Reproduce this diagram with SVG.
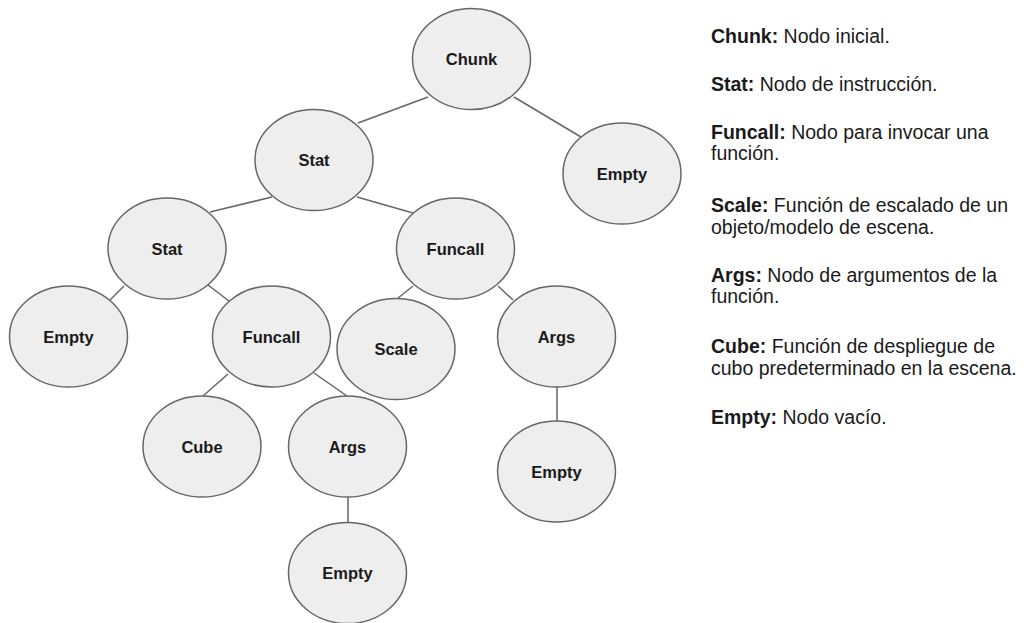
<svg xmlns="http://www.w3.org/2000/svg" width="1029" height="623" viewBox="0 0 1029 623">
  <style>
    .node ellipse { fill: #eeeeee; stroke: #666666; stroke-width: 1.5; }
    .node text { font-family: "Liberation Sans", Arial, sans-serif; font-weight: bold; font-size: 16.5px; fill: #1a1a1a; text-anchor: middle; }
    #edges line { stroke: #666666; stroke-width: 1.5; }
    .legend text { font-family: "Liberation Sans", Arial, sans-serif; font-size: 19.5px; fill: #1a1a1a; }
    .legend tspan.k { font-weight: bold; }
  </style>
  <rect width="1029" height="623" fill="#ffffff"/>

  <!-- parent/child links -->
  <g id="edges">
    <line x1="428" y1="97" x2="358" y2="123"/>
    <line x1="514" y1="97" x2="581" y2="137"/>
    <line x1="272" y1="197" x2="210" y2="212"/>
    <line x1="357" y1="197" x2="413" y2="213"/>
    <line x1="124" y1="286" x2="110" y2="300"/>
    <line x1="208" y1="285" x2="229" y2="301"/>
    <line x1="413" y1="286" x2="398" y2="298"/>
    <line x1="498" y1="286" x2="513" y2="300"/>
    <line x1="228" y1="374" x2="203" y2="396"/>
    <line x1="314" y1="373" x2="347" y2="396"/>
    <line x1="348" y1="497" x2="348" y2="523"/>
    <line x1="557" y1="387" x2="557" y2="421"/>
  </g>

  <g id="chunk" class="node"><ellipse cx="471.5" cy="59" rx="59" ry="50.5"/><text x="471.5" y="65">Chunk</text></g>
  <g id="stat-1" class="node"><ellipse cx="314" cy="160" rx="59" ry="50.5"/><text x="314" y="166">Stat</text></g>
  <g id="empty-1" class="node"><ellipse cx="622" cy="173.5" rx="59" ry="50.5"/><text x="622" y="179.5">Empty</text></g>
  <g id="stat-2" class="node"><ellipse cx="167" cy="248.5" rx="59" ry="50.5"/><text x="167" y="254.5">Stat</text></g>
  <g id="funcall-1" class="node"><ellipse cx="455.5" cy="248.5" rx="59" ry="50.5"/><text x="455.5" y="254.5">Funcall</text></g>
  <g id="empty-2" class="node"><ellipse cx="68.5" cy="336.5" rx="59" ry="50.5"/><text x="68.5" y="342.5">Empty</text></g>
  <g id="funcall-2" class="node"><ellipse cx="271.5" cy="336.5" rx="59" ry="50.5"/><text x="271.5" y="342.5">Funcall</text></g>
  <g id="scale" class="node"><ellipse cx="396" cy="349" rx="59" ry="50.5"/><text x="396" y="355">Scale</text></g>
  <g id="args-1" class="node"><ellipse cx="556.5" cy="336.5" rx="59" ry="50.5"/><text x="556.5" y="342.5">Args</text></g>
  <g id="cube" class="node"><ellipse cx="202" cy="446.5" rx="59" ry="50.5"/><text x="202" y="452.5">Cube</text></g>
  <g id="args-2" class="node"><ellipse cx="347.5" cy="446.5" rx="59" ry="50.5"/><text x="347.5" y="452.5">Args</text></g>
  <g id="empty-3" class="node"><ellipse cx="556.5" cy="471.5" rx="59" ry="50.5"/><text x="556.5" y="477.5">Empty</text></g>
  <g id="empty-4" class="node"><ellipse cx="347.5" cy="573" rx="59" ry="50.5"/><text x="347.5" y="579">Empty</text></g>

  <!-- glossary -->
  <g id="legend" class="legend">
    <text x="711" y="43"><tspan class="k">Chunk:</tspan> Nodo inicial.</text>
    <text x="711" y="91"><tspan class="k">Stat:</tspan> Nodo de instrucción.</text>
    <text x="711" y="139"><tspan class="k">Funcall:</tspan> Nodo para invocar una</text>
    <text x="711" y="160">función.</text>
    <text x="711" y="212"><tspan class="k">Scale:</tspan> Función de escalado de un</text>
    <text x="711" y="234">objeto/modelo de escena.</text>
    <text x="711" y="282"><tspan class="k">Args:</tspan> Nodo de argumentos de la</text>
    <text x="711" y="303">función.</text>
    <text x="711" y="353"><tspan class="k">Cube:</tspan> Función de despliegue de</text>
    <text x="711" y="375">cubo predeterminado en la escena.</text>
    <text x="711" y="424"><tspan class="k">Empty:</tspan> Nodo vacío.</text>
  </g>
</svg>
